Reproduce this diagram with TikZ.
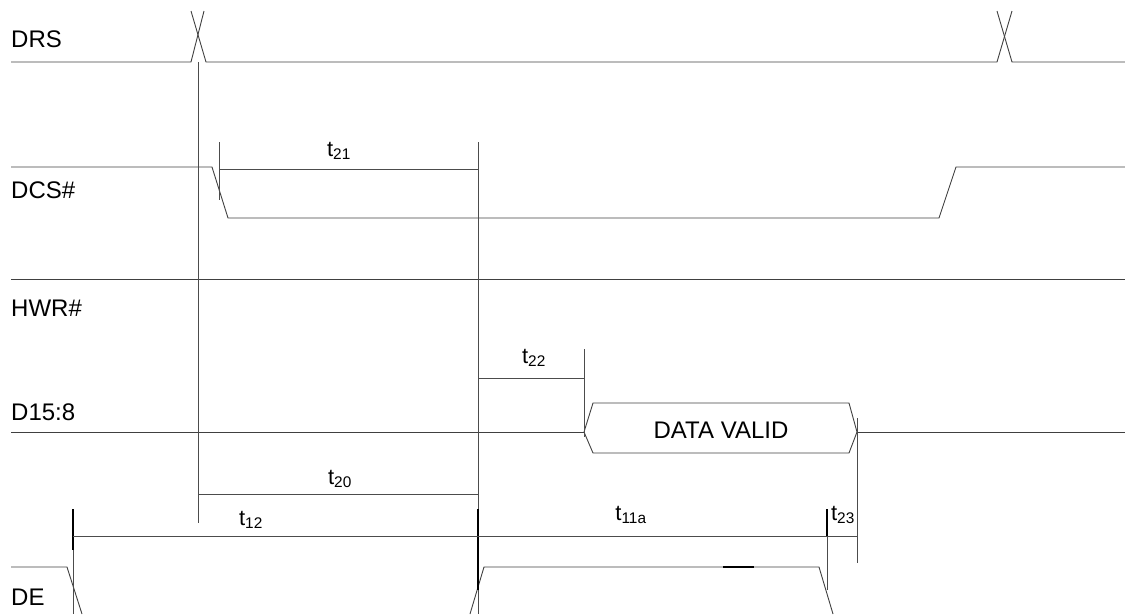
\documentclass[tikz,border=0pt]{standalone}
\usepackage{fontspec}
\setmainfont{Liberation Sans}
\usetikzlibrary{positioning}
\tikzstyle{wave} = [draw=black!75, line width=0.9pt]
\tikzstyle{guide} = [draw=black!70, line width=0.9pt]
\tikzstyle{signame} = [anchor=west, inner sep=0pt, font=\fontsize{24}{26}\selectfont]
\tikzstyle{tlabel} = [inner sep=0pt, font=\fontsize{22}{24}\selectfont]
\newcommand{\tname}[1]{t\textsubscript{#1}}

\begin{document}
\begin{tikzpicture}[x=1pt, y=-1pt]
        \useasboundingbox (0,0) rectangle (1125,614);
        % signal names
        \node (drs) [signame] at (11,39) {DRS};
        \node (dcs) [signame] at (11,190) {DCS\#};
        \node (hwr) [signame] at (11,308) {HWR\#};
        \node (dat) [signame] at (11,412) {D15:8};
        \node (de) [signame] at (11,597) {DE};
        % waveforms
        \draw [wave] (11,62) -- (191,62) -- (204,11);
        \draw [wave] (191,11) -- (206,62) -- (997,62) -- (1012,11);
        \draw [wave] (997,11) -- (1012,62) -- (1125,62);
        \draw [wave] (11,167) -- (212,167) -- (228,218) -- (939,218) -- (956,167) -- (1125,167);
        \draw [wave] (11,279) -- (1125,279);
        \draw [wave] (11,432) -- (584,432);
        \draw [wave] (584,432) -- (593,403) -- (849,403) -- (857,432) -- (849,453) -- (593,453) -- cycle;
        \draw [wave] (857,432) -- (1125,432);
        \node (valid) [signame, anchor=center] at (721,430) {DATA VALID};
        \draw [wave] (11,567) -- (67,567) -- (82,614);
        \draw [wave] (470,614) -- (484,567) -- (819,567) -- (833,614);
        \draw [wave, line width=1.8pt, draw=black] (723,567) -- (754,567);
        % edges
        \coordinate (drsx) at (198,62);
        \coordinate (drsb) at (198,523);
        \coordinate (mid) at (478,142);
        \coordinate (midb) at (478,614);
        \coordinate (dcsx) at (219,142);
        \coordinate (dcsb) at (219,200);
        \coordinate (datx) at (584,349);
        \coordinate (datb) at (584,437);
        \coordinate (endx) at (857,418);
        \coordinate (endb) at (857,563);
        \coordinate (dex) at (73,509);
        \coordinate (deb) at (73,614);
        \coordinate (dex2) at (827,509);
        \coordinate (deb2) at (827,590);
        \draw [guide] (drsx) -- (drsb);
        \draw [guide] (mid) -- (midb);
        \draw [guide] (dcsx) -- (dcsb);
        \draw [guide] (datx) -- (datb);
        \draw [guide] (endx) -- (endb);
        \draw [guide] (dex) -- (deb);
        \draw [guide, line width=1.8pt, draw=black] (dex) -- (73,550);
        \draw [guide] (dex2) -- (deb2);
        \draw [guide, line width=1.6pt, draw=black] (dex2) -- (827,536);
        \draw [guide, line width=1.6pt, draw=black] (478,509) -- (478,590);
        % timings
        \draw [guide] (219,169) -- (478,169);
        \draw [guide] (478,378) -- (584,378);
        \draw [guide] (198,494) -- (478,494);
        \draw [guide] (73,536) -- (478,536);
        \draw [guide] (478,536) -- (827,536);
        \draw [guide] (827,536) -- (857,536);
        \node (t21) [tlabel] at (339,151) {\tname{21}};
        \node (t22) [tlabel] at (534,358) {\tname{22}};
        \node (t20) [tlabel] at (340,479) {\tname{20}};
        \node (t12) [tlabel] at (251,520) {\tname{12}};
        \node (t11a) [tlabel] at (631,515) {\tname{11a}};
        \node (t23) [tlabel] at (843,515) {\tname{23}};
    \end{tikzpicture}
\end{document}
